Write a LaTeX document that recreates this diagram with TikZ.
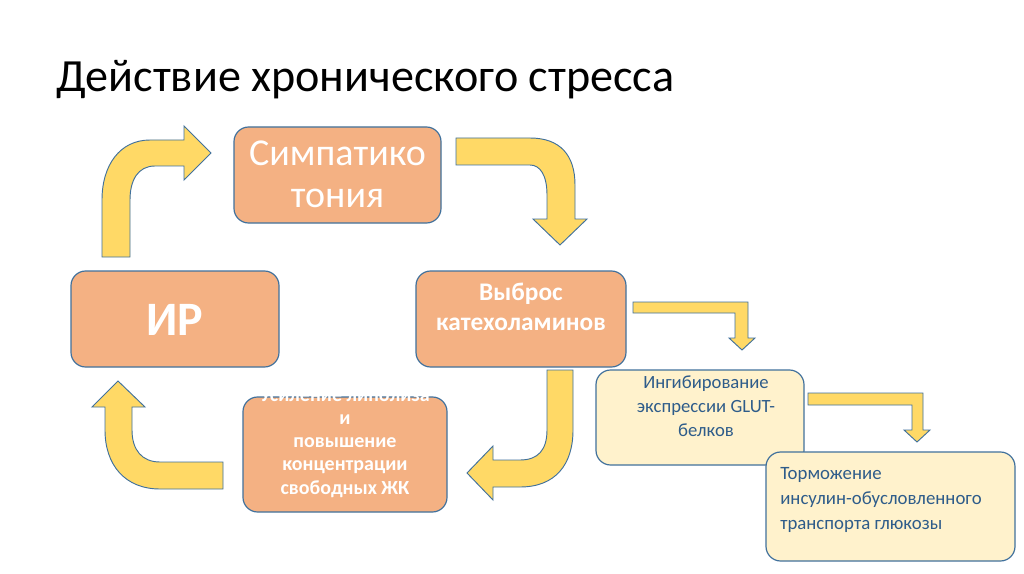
\documentclass[tikz,border=0pt]{standalone}
\usepackage{fontspec}
\setmainfont{Carlito}
\definecolor{boxorange}{HTML}{F4B183}
\definecolor{boxcream}{HTML}{FFF2CC}
\definecolor{edgeblue}{HTML}{41719C}
\definecolor{arrowyellow}{HTML}{FFD966}
\definecolor{textblue}{HTML}{2E5C8A}
\tikzset{
  orangebox/.style={draw=edgeblue, line width=0.9pt, fill=boxorange, rounded corners=11pt},
  creambox/.style={draw=edgeblue, line width=0.9pt, fill=boxcream, rounded corners=11pt},
  blockarrow/.style={draw=edgeblue, line width=0.7pt, fill=arrowyellow, line join=miter},
  whitetext/.style={text=white, align=center, inner sep=0pt},
  bluetext/.style={text=textblue, inner sep=0pt},
}
\begin{document}
\begin{tikzpicture}[x=0.75pt, y=-0.75pt]
\useasboundingbox (0,0) rectangle (1024,574);
\fill[white] (0,0) rectangle (1024,574);

% title
\node[anchor=base west, inner sep=0pt, font=\fontsize{34.6}{40}\selectfont] (title) at (56,92) {Действие хронического стресса};

% boxes
\path[orangebox] (234,127) rectangle (441,223);
\node[whitetext, font=\fontsize{28.5}{31.5}\selectfont] (symp) at (337.5,174) {Симпатико\\тония};

\path[orangebox] (71,271) rectangle (279,367);
\node[whitetext, font=\fontsize{36}{40}\bfseries\selectfont] (ir) at (175,320) {ИР};

\path[orangebox] (416,271) rectangle (626,367);
\node[whitetext, font=\fontsize{19}{22.5}\bfseries\selectfont] (cat) at (521,307) {Выброс\\катехоламинов};

\path[orangebox] (243,397) rectangle (447,512);
\node[whitetext, font=\fontsize{15}{17.3}\bfseries\selectfont] (lip) at (345,443) {Усиление липолиза\\и\\повышение\\концентрации\\свободных ЖК};

\path[creambox] (596,370) rectangle (804,465);
\node[bluetext, align=center, font=\fontsize{14}{18}\selectfont] (glut) at (706,406) {Ингибирование\\экспрессии GLUT-\\белков};

\path[creambox] (766,452) rectangle (1015,561);
\node[bluetext, align=left, anchor=west, font=\fontsize{14.1}{19}\selectfont] (torm) at (780,500) {Торможение\\инсулин-обусловленного\\транспорта глюкозы};

% block arrows
% IR -> Sympathicotonia
\path[blockarrow] (102,257) -- (102,200) .. controls (102,165) and (120,140) .. (150,140)
  -- (184,140) -- (184,126) -- (211,153) -- (184,180) -- (184,166) -- (155,166)
  .. controls (138,166) and (130,180) .. (130,200) -- (130,257) -- cycle;
% Sympathicotonia -> catecholamines
\path[blockarrow] (456,138) -- (530,138) .. controls (560,138) and (575,155) .. (575,185)
  -- (575,219) -- (587,219) -- (560,245) -- (533,219) -- (547,219) -- (547,195)
  .. controls (547,175) and (540,165) .. (530,165) -- (456,165) -- cycle;
% catecholamines -> GLUT
\path[blockarrow] (633,302) -- (748,302) -- (748,338) -- (755,338) -- (742,350)
  -- (729,338) -- (735,338) -- (735,313) -- (633,313) -- cycle;
% GLUT -> transport
\path[blockarrow] (808,393) -- (923,393) -- (923,430) -- (930,430) -- (917,442)
  -- (904,430) -- (912,430) -- (912,405) -- (808,405) -- cycle;
% catecholamines -> lipolysis
\path[blockarrow] (547,370) -- (573,370) -- (573,430) .. controls (573,465) and (555,487) .. (520,487)
  -- (493,487) -- (493,500) -- (467,473) -- (493,446) -- (493,460) -- (520,460)
  .. controls (538,460) and (547,450) .. (547,430) -- cycle;
% lipolysis -> IR
\path[blockarrow] (223,462) -- (223,489) -- (160,489) .. controls (125,489) and (105,465) .. (105,430)
  -- (105,407) -- (92,407) -- (118,381) -- (145,407) -- (132,407) -- (132,430)
  .. controls (132,450) and (142,462) .. (160,462) -- cycle;
\end{tikzpicture}
\end{document}
